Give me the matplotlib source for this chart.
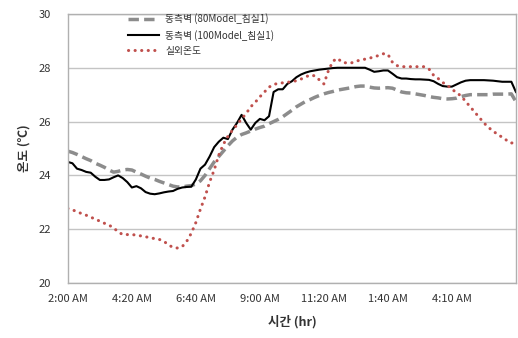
import matplotlib
matplotlib.use("Agg")
import matplotlib.pyplot as plt
import numpy as np

plt.rcParams['font.family'] = ['Noto Sans CJK KR', 'DejaVu Sans']

tick_labels = ["2:00 AM", "4:20 AM", "6:40 AM", "9:00 AM", "11:20 AM", "1:40 AM", "4:10 AM"]
tick_index = [0, 14, 28, 42, 56, 70, 84]

series_names = ["동측벽 (80Model_침실1)", "동측벽 (100Model_침실1)", "실외온도"]

model80 = [24.9, 24.85, 24.78, 24.7, 24.62, 24.55, 24.45, 24.38, 24.3, 24.2,
           24.12, 24.15, 24.2, 24.22, 24.2, 24.12, 24.05, 23.97, 23.9, 23.85,
           23.78, 23.72, 23.66, 23.6, 23.57, 23.57, 23.6, 23.62, 23.68, 23.8,
           24.0, 24.25, 24.5, 24.7, 24.9, 25.1, 25.28, 25.42, 25.52, 25.58,
           25.65, 25.72, 25.78, 25.83, 25.92, 26.0, 26.08, 26.18, 26.3, 26.42,
           26.55, 26.65, 26.75, 26.82, 26.9, 26.97, 27.03, 27.08, 27.12, 27.17,
           27.2, 27.23, 27.26, 27.3, 27.32, 27.32, 27.28, 27.25, 27.24, 27.25,
           27.26, 27.24, 27.17, 27.1, 27.07, 27.06, 27.03, 27.0, 26.97, 26.93,
           26.9, 26.88, 26.85, 26.84, 26.85, 26.87, 26.93, 26.97, 27.0, 27.0,
           27.0, 27.0, 27.0, 27.02, 27.02, 27.02, 27.02, 27.03, 26.74]

model100 = [24.5, 24.45, 24.25, 24.2, 24.13, 24.1, 23.95, 23.83, 23.83, 23.85,
            23.93, 24.0, 23.9, 23.75, 23.55, 23.6, 23.52, 23.38, 23.32, 23.3,
            23.33, 23.37, 23.4, 23.42, 23.5, 23.55, 23.57, 23.58, 23.85, 24.25,
            24.4, 24.7, 25.05, 25.25, 25.4, 25.35, 25.7, 25.95, 26.25, 25.95,
            25.7, 25.95, 26.1, 26.05, 26.2, 27.1, 27.2, 27.2, 27.4, 27.5,
            27.65, 27.75, 27.82, 27.87, 27.9, 27.93, 27.95, 27.97, 27.99, 28.0,
            28.0, 28.0, 28.0, 28.0, 28.0, 28.0, 27.93, 27.85, 27.87, 27.9,
            27.9, 27.78, 27.65, 27.6, 27.6, 27.58, 27.57, 27.57, 27.56, 27.55,
            27.5, 27.4, 27.32, 27.3, 27.3, 27.38, 27.46, 27.52, 27.54, 27.54,
            27.54, 27.54, 27.53, 27.52, 27.5, 27.48, 27.48, 27.48, 27.1]

outdoor = [22.77, 22.72, 22.65, 22.58, 22.52, 22.45, 22.37, 22.3, 22.22, 22.15,
           22.05, 21.9, 21.8, 21.8, 21.8, 21.78, 21.75, 21.72, 21.68, 21.65,
           21.62, 21.55, 21.42, 21.32, 21.3, 21.35, 21.55, 21.85, 22.25, 22.75,
           23.2, 23.75, 24.2, 24.75, 25.15, 25.45, 25.68, 25.88, 26.1, 26.3,
           26.55, 26.72, 26.92, 27.1, 27.28, 27.38, 27.42, 27.44, 27.46, 27.48,
           27.52, 27.58, 27.66, 27.73, 27.7, 27.55, 27.4, 27.9, 28.25, 28.35,
           28.2, 28.18, 28.18, 28.24, 28.29, 28.32, 28.36, 28.4, 28.46, 28.52,
           28.5, 28.2, 28.08, 28.04, 28.04, 28.04, 28.04, 28.04, 28.04, 27.95,
           27.72, 27.6, 27.45, 27.35, 27.2, 27.08, 26.95, 26.75, 26.55, 26.35,
           26.15, 25.95, 25.78, 25.65, 25.52, 25.42, 25.3, 25.2, 25.25]

fig = plt.figure(figsize=(5.18, 3.38), dpi=100)
ax = fig.add_axes([0.131, 0.1627, 0.865, 0.796])

x = np.arange(len(model80))
ax.plot(x, model80, color='#8c8c8c', lw=2.5, ls=(0, (3.0, 1.5)), label=series_names[0])
ax.plot(x, model100, color='black', lw=1.5, ls='-', label=series_names[1])
ax.plot(x, outdoor, color='#c0504d', lw=2.2, ls=(0, (0.05, 2.1)), dash_capstyle='round',
        label=series_names[2])

ax.set_xlim(0, len(model80) - 1)
ax.set_ylim(20, 30)
ax.set_yticks(np.arange(20, 31, 2))
ax.set_xticks(tick_index)
ax.set_xticklabels(tick_labels)
ax.tick_params(axis='both', length=0, labelsize=8, colors='#333333')
ax.tick_params(axis='y', pad=12)
ax.tick_params(axis='x', pad=8)
ax.yaxis.grid(True, color='#c4c4c4', lw=1)
ax.set_axisbelow(True)
for s in ax.spines.values():
    s.set_color('#b0b0b0')
    s.set_linewidth(1)

ax.set_xlabel("시간 (hr)", fontsize=9, fontweight='bold', color='#333333', labelpad=8)
ax.set_ylabel("온도 (℃)", fontsize=9, fontweight='bold', color='#333333', labelpad=6)

leg = ax.legend(loc='upper left', bbox_to_anchor=(0.115, 1.035), frameon=False,
                fontsize=7, handlelength=3.2, labelspacing=0.55, handletextpad=0.6,
                labelcolor='#333333')

fig.savefig("out.png", dpi=100)
